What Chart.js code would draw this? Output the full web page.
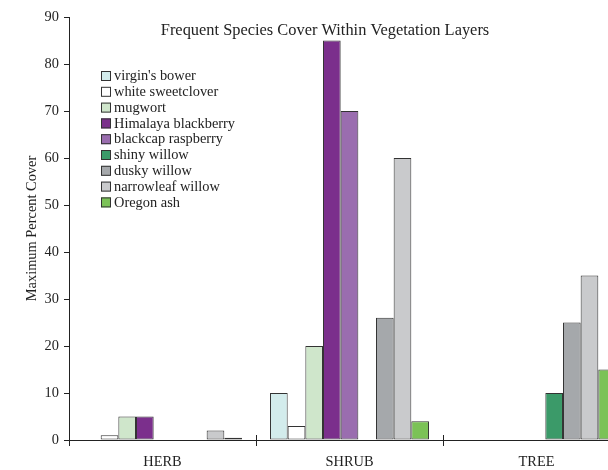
<!DOCTYPE html>
<html>
<head>
<meta charset="utf-8">
<script src="https://cdn.jsdelivr.net/npm/chart.js@4"></script>
<style>
  html, body { margin: 0; padding: 0; overflow: hidden; background: #fff; }
  /* chart is wider than the window on purpose: right edge of TREE is clipped */
  #wrap { width: 650px; height: 470px; }
</style>
</head>
<body>
<div id="wrap"><canvas id="coverChart"></canvas></div>
<script>
"use strict";

// ─── Data ────────────────────────────────────────────────
const layers = ["HERB", "SHRUB", "TREE"];

const virginsBower       = [0,   10, 0];
const whiteSweetclover   = [1,   3,  0];
const mugwort            = [5,   20, 0];
const himalayaBlackberry = [5,   85, 0];
const blackcapRaspberry  = [0,   70, 0];
const shinyWillow        = [0,   0,  10];
const duskyWillow        = [0,   26, 25];
const narrowleafWillow   = [2,   60, 35];
const oregonAsh          = [0.5, 4,  15];

const yTicks = [0, 10, 20, 30, 40, 50, 60, 70, 80, 90];

// ─── Palette ─────────────────────────────────────────────
const COLORS = {
  bower:     "#d3ecec",
  clover:    "#ffffff",
  mugwort:   "#cfe6cb",
  himalaya:  "#7b2f8c",
  blackcap:  "#9a6daf",
  shiny:     "#3b9a69",
  dusky:     "#a5a8ab",
  narrow:    "#c9cacc",
  ash:       "#7bc257",
  edge:      "#333333",
};

const SERIF = "'Liberation Serif', 'Times New Roman', serif";
const TEXT  = "#222";

function series(label, data, color) {
  return {
    label,
    data,
    backgroundColor: color,
    borderColor: COLORS.edge,
    borderWidth: c => (c.raw === 0 ? 0 : 1),
    borderSkipped: false,
    categoryPercentage: 0.85,
    barPercentage: 1.0,
  };
}

// ─── Plugins: title + legend drawn inside the plot ───────
const insideTitle = {
  id: "insideTitle",
  afterDraw(chart) {
    const c = chart.ctx;
    c.save();
    c.font = "16.4px " + SERIF;
    c.fillStyle = TEXT;
    c.textAlign = "center";
    c.textBaseline = "middle";
    c.fillText("Frequent Species Cover Within Vegetation Layers", chart.width / 2, 31);
    c.restore();
  },
};

const insideLegend = {
  id: "insideLegend",
  afterDraw(chart) {
    const c = chart.ctx;
    const x0 = 101, y0 = 76, step = 15.8, box = 10;
    c.save();
    c.font = "14.4px " + SERIF;
    c.textBaseline = "middle";
    chart.data.datasets.forEach((ds, i) => {
      const y = y0 + i * step;
      c.fillStyle = ds.backgroundColor;
      c.fillRect(x0, y - box / 2, box, box);
      c.strokeStyle = COLORS.edge;
      c.lineWidth = 1;
      c.strokeRect(x0 + 0.5, y - box / 2 + 0.5, box - 1, box - 1);
      c.fillStyle = TEXT;
      c.fillText(ds.label, x0 + 13, y + 0.5);
    });
    c.restore();
  },
};

// small tick marks poking up above the x axis at category borders
const crossTicks = {
  id: "crossTicks",
  afterDraw(chart) {
    const xs = chart.scales.x;
    const bottom = chart.chartArea.bottom;
    const half = (xs.getPixelForValue(1) - xs.getPixelForValue(0)) / 2;
    const c = chart.ctx;
    c.save();
    c.strokeStyle = TEXT;
    c.lineWidth = 1;
    for (let i = 1; i <= layers.length; i++) {
      const px = Math.round(xs.getPixelForValue(i) - half) + 0.5;
      c.beginPath();
      c.moveTo(px, bottom - 5);
      c.lineTo(px, bottom);
      c.stroke();
    }
    c.restore();
  },
};

// ─── Chart ───────────────────────────────────────────────
new Chart(document.getElementById("coverChart"), {
  type: "bar",
  data: {
    labels: layers,
    datasets: [
      series("virgin's bower",       virginsBower,       COLORS.bower),
      series("white sweetclover",    whiteSweetclover,   COLORS.clover),
      series("mugwort",              mugwort,            COLORS.mugwort),
      series("Himalaya blackberry",  himalayaBlackberry, COLORS.himalaya),
      series("blackcap raspberry",   blackcapRaspberry,  COLORS.blackcap),
      series("shiny willow",         shinyWillow,        COLORS.shiny),
      series("dusky willow",         duskyWillow,        COLORS.dusky),
      series("narrowleaf willow",    narrowleafWillow,   COLORS.narrow),
      series("Oregon ash",           oregonAsh,          COLORS.ash),
    ],
  },
  options: {
    responsive: true,
    maintainAspectRatio: false,
    animation: false,
    layout: { padding: { top: 17, right: 20, left: 0, bottom: 0 } },
    scales: {
      x: {
        offset: true,
        grid: { display: true, drawOnChartArea: false, offset: true, color: TEXT, tickLength: 6 },
        border: { display: true, color: TEXT },
        ticks: { color: TEXT, font: { family: SERIF, size: 14.4 }, padding: 8 },
        afterFit: s => { s.height = 30; },
      },
      y: {
        min: 0,
        max: 90,
        afterBuildTicks: s => { s.ticks = yTicks.map(v => ({ value: v })); },
        grid: { display: true, drawOnChartArea: false, color: TEXT, tickLength: 5 },
        border: { display: true, color: TEXT },
        ticks: { color: TEXT, font: { family: SERIF, size: 14.4 }, padding: 5 },
        title: {
          display: true,
          text: "Maximum Percent Cover",
          color: TEXT,
          font: { family: SERIF, size: 14.4 },
          padding: { top: 24, bottom: 0 },
        },
        afterFit: s => { s.width = 69; },
      },
    },
    plugins: {
      legend: { display: false },
      tooltip: { enabled: false },
    },
  },
  plugins: [insideTitle, insideLegend, crossTicks],
});
</script>
</body>
</html>
